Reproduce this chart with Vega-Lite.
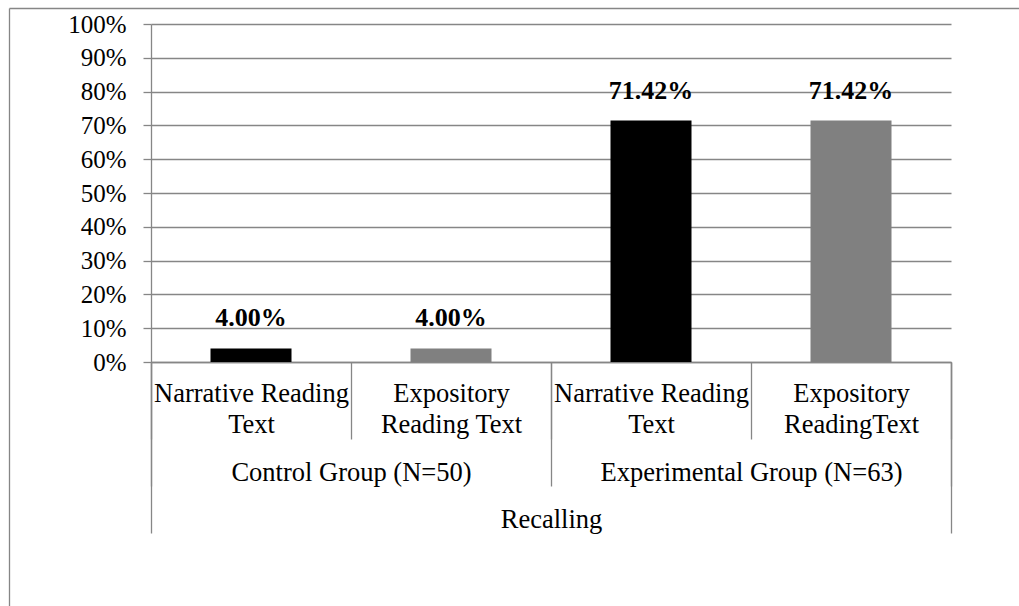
{
  "$schema": "https://vega.github.io/schema/vega-lite/v6.json",
  "width": 800,
  "height": 338,
  "autosize": {"type": "none"},
  "padding": {"left": 151, "top": 24, "right": 68, "bottom": 244},
  "background": "white",
  "config": {"view": {"stroke": null}, "font": "Liberation Serif"},
  "data": {
    "values": [
      {"cell": "Control Group (N=50)|Narrative Reading|Text", "group": "Control Group (N=50)", "measure": "Recalling", "reading": "Narrative", "percent": 0.04},
      {"cell": "Control Group (N=50)|Expository|Reading Text", "group": "Control Group (N=50)", "measure": "Recalling", "reading": "Expository", "percent": 0.04},
      {"cell": "Experimental Group (N=63)|Narrative Reading|Text", "group": "Experimental Group (N=63)", "measure": "Recalling", "reading": "Narrative", "percent": 0.7142},
      {"cell": "Experimental Group (N=63)|Expository|ReadingText", "group": "Experimental Group (N=63)", "measure": "Recalling", "reading": "Expository", "percent": 0.7142}
    ]
  },
  "layer": [
    {
      "encoding": {
        "x": {
          "field": "cell", "type": "nominal", "sort": null,
          "scale": {"paddingInner": 0, "paddingOuter": 0},
          "axis": {
            "orient": "bottom", "title": null, "tickBand": "extent", "tickSize": 77,
            "tickColor": "#868686", "tickWidth": 1.3, "domainColor": "#868686", "domainWidth": 1.3,
            "labelExpr": "slice(split(datum.value, '|'), 1)",
            "labelAngle": 0, "labelFont": "Liberation Serif", "labelFontSize": 26.5, "labelColor": "#000000",
            "labelLineHeight": 31, "labelPadding": -59, "labelLimit": 0, "labelOverlap": false, "labelFlush": false,
            "grid": false
          }
        },
        "y": {
          "field": "percent", "type": "quantitative",
          "scale": {"domain": [0, 1], "nice": false},
          "axis": {
            "orient": "left",
            "title": null, "values": [0, 0.1, 0.2, 0.3, 0.4, 0.5, 0.6, 0.7, 0.8, 0.9, 1], "format": ".0%",
            "grid": true, "gridColor": "#868686", "gridWidth": 1.3,
            "tickSize": 8, "tickColor": "#868686", "tickWidth": 1.3,
            "domainColor": "#868686", "domainWidth": 1.3,
            "labelFont": "Liberation Serif", "labelFontSize": 25, "labelColor": "#000000", "labelPadding": 17
          }
        }
      },
      "layer": [
        {
          "mark": {"type": "bar", "width": {"band": 0.405}},
          "encoding": {
            "color": {"field": "reading", "type": "nominal", "scale": {"domain": ["Narrative", "Expository"], "range": ["#000000", "#808080"]}, "legend": null}
          }
        },
        {
          "mark": {"type": "text", "font": "Liberation Serif", "fontWeight": "bold", "fontSize": 26, "baseline": "alphabetic", "dy": -22, "color": "#000000"},
          "encoding": {
            "text": {"field": "percent", "type": "quantitative", "format": ".2%"}
          }
        }
      ]
    },
    {
      "mark": {"type": "bar", "opacity": 0},
      "encoding": {
        "x": {
          "field": "group", "type": "nominal", "sort": null,
          "scale": {"paddingInner": 0, "paddingOuter": 0},
          "axis": {
            "orient": "bottom", "title": null, "tickBand": "extent", "tickSize": 124,
            "tickColor": "#868686", "tickWidth": 1.3, "domain": false,
            "labelAngle": 0, "labelFont": "Liberation Serif", "labelFontSize": 26.5, "labelColor": "#000000",
            "labelPadding": -27, "labelLimit": 0, "labelOverlap": false, "labelFlush": false, "grid": false
          }
        }
      }
    },
    {
      "mark": {"type": "bar", "opacity": 0},
      "encoding": {
        "x": {
          "field": "measure", "type": "nominal", "sort": null,
          "scale": {"paddingInner": 0, "paddingOuter": 0},
          "axis": {
            "orient": "bottom", "title": null, "tickBand": "extent", "tickSize": 171,
            "tickColor": "#868686", "tickWidth": 1.3, "domain": false,
            "labelAngle": 0, "labelFont": "Liberation Serif", "labelFontSize": 26.5, "labelColor": "#000000",
            "labelPadding": -27, "labelLimit": 0, "labelOverlap": false, "labelFlush": false, "grid": false
          }
        }
      }
    },
    {
      "mark": {"type": "bar", "opacity": 0},
      "encoding": {
        "x": {
          "field": "measure", "type": "nominal",
          "scale": {"range": [-142, 868], "paddingInner": 0, "paddingOuter": 0},
          "axis": {
            "orient": "top", "offset": 16, "title": null, "domain": true, "domainColor": "#868686", "domainWidth": 1.3,
            "ticks": false, "labels": false, "grid": false
          }
        },
        "y": {
          "field": "measure", "type": "nominal",
          "scale": {"range": [582, -16], "paddingInner": 0, "paddingOuter": 0},
          "axis": {
            "orient": "left", "offset": 142, "title": null, "domain": true, "domainColor": "#868686", "domainWidth": 1.3,
            "ticks": false, "labels": false, "grid": false
          }
        }
      }
    }
  ],
  "resolve": {"scale": {"x": "independent", "y": "independent"}, "axis": {"x": "independent", "y": "independent"}}
}
